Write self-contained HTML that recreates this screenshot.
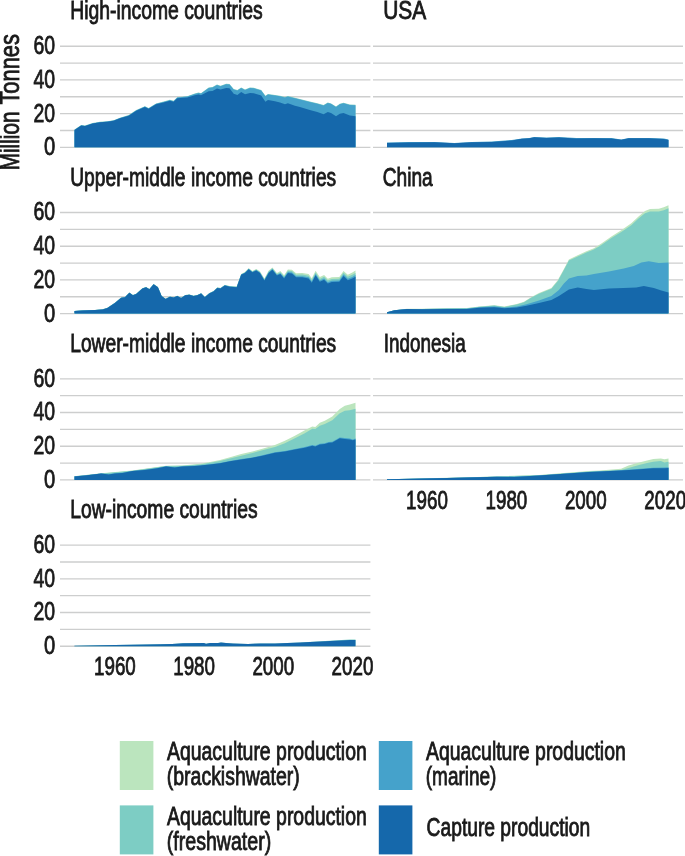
<!DOCTYPE html>
<html><head><meta charset="utf-8"><title>Production by income group</title>
<style>
html,body{margin:0;padding:0;background:#fff;}
body{width:685px;height:856px;overflow:hidden;}
svg{display:block;filter:blur(0.45px);font-family:"Liberation Sans",sans-serif;fill:#1a1a1a;}
text{stroke:#1a1a1a;stroke-width:0.85px;}
</style></head><body>
<svg width="685" height="856" viewBox="0 0 685 856">
<rect width="685" height="856" fill="#fff"/>
<line x1="60.0" x2="370.4" y1="147.30" y2="147.30" stroke="#cdcece" stroke-width="1.35"/>
<line x1="60.0" x2="370.4" y1="130.45" y2="130.45" stroke="#cdcece" stroke-width="1.35"/>
<line x1="60.0" x2="370.4" y1="113.60" y2="113.60" stroke="#cdcece" stroke-width="1.35"/>
<line x1="60.0" x2="370.4" y1="96.75" y2="96.75" stroke="#cdcece" stroke-width="1.35"/>
<line x1="60.0" x2="370.4" y1="79.90" y2="79.90" stroke="#cdcece" stroke-width="1.35"/>
<line x1="60.0" x2="370.4" y1="63.05" y2="63.05" stroke="#cdcece" stroke-width="1.35"/>
<line x1="60.0" x2="370.4" y1="46.20" y2="46.20" stroke="#cdcece" stroke-width="1.35"/>
<line x1="60.0" x2="370.4" y1="313.60" y2="313.60" stroke="#cdcece" stroke-width="1.35"/>
<line x1="60.0" x2="370.4" y1="296.75" y2="296.75" stroke="#cdcece" stroke-width="1.35"/>
<line x1="60.0" x2="370.4" y1="279.90" y2="279.90" stroke="#cdcece" stroke-width="1.35"/>
<line x1="60.0" x2="370.4" y1="263.05" y2="263.05" stroke="#cdcece" stroke-width="1.35"/>
<line x1="60.0" x2="370.4" y1="246.20" y2="246.20" stroke="#cdcece" stroke-width="1.35"/>
<line x1="60.0" x2="370.4" y1="229.35" y2="229.35" stroke="#cdcece" stroke-width="1.35"/>
<line x1="60.0" x2="370.4" y1="212.50" y2="212.50" stroke="#cdcece" stroke-width="1.35"/>
<line x1="60.0" x2="370.4" y1="479.90" y2="479.90" stroke="#cdcece" stroke-width="1.35"/>
<line x1="60.0" x2="370.4" y1="463.05" y2="463.05" stroke="#cdcece" stroke-width="1.35"/>
<line x1="60.0" x2="370.4" y1="446.20" y2="446.20" stroke="#cdcece" stroke-width="1.35"/>
<line x1="60.0" x2="370.4" y1="429.35" y2="429.35" stroke="#cdcece" stroke-width="1.35"/>
<line x1="60.0" x2="370.4" y1="412.50" y2="412.50" stroke="#cdcece" stroke-width="1.35"/>
<line x1="60.0" x2="370.4" y1="395.65" y2="395.65" stroke="#cdcece" stroke-width="1.35"/>
<line x1="60.0" x2="370.4" y1="378.80" y2="378.80" stroke="#cdcece" stroke-width="1.35"/>
<line x1="60.0" x2="370.4" y1="646.20" y2="646.20" stroke="#cdcece" stroke-width="1.35"/>
<line x1="60.0" x2="370.4" y1="629.35" y2="629.35" stroke="#cdcece" stroke-width="1.35"/>
<line x1="60.0" x2="370.4" y1="612.50" y2="612.50" stroke="#cdcece" stroke-width="1.35"/>
<line x1="60.0" x2="370.4" y1="595.65" y2="595.65" stroke="#cdcece" stroke-width="1.35"/>
<line x1="60.0" x2="370.4" y1="578.80" y2="578.80" stroke="#cdcece" stroke-width="1.35"/>
<line x1="60.0" x2="370.4" y1="561.95" y2="561.95" stroke="#cdcece" stroke-width="1.35"/>
<line x1="60.0" x2="370.4" y1="545.10" y2="545.10" stroke="#cdcece" stroke-width="1.35"/>
<line x1="373.0" x2="683.0" y1="147.30" y2="147.30" stroke="#cdcece" stroke-width="1.35"/>
<line x1="373.0" x2="683.0" y1="130.45" y2="130.45" stroke="#cdcece" stroke-width="1.35"/>
<line x1="373.0" x2="683.0" y1="113.60" y2="113.60" stroke="#cdcece" stroke-width="1.35"/>
<line x1="373.0" x2="683.0" y1="96.75" y2="96.75" stroke="#cdcece" stroke-width="1.35"/>
<line x1="373.0" x2="683.0" y1="79.90" y2="79.90" stroke="#cdcece" stroke-width="1.35"/>
<line x1="373.0" x2="683.0" y1="63.05" y2="63.05" stroke="#cdcece" stroke-width="1.35"/>
<line x1="373.0" x2="683.0" y1="46.20" y2="46.20" stroke="#cdcece" stroke-width="1.35"/>
<line x1="373.0" x2="683.0" y1="313.60" y2="313.60" stroke="#cdcece" stroke-width="1.35"/>
<line x1="373.0" x2="683.0" y1="296.75" y2="296.75" stroke="#cdcece" stroke-width="1.35"/>
<line x1="373.0" x2="683.0" y1="279.90" y2="279.90" stroke="#cdcece" stroke-width="1.35"/>
<line x1="373.0" x2="683.0" y1="263.05" y2="263.05" stroke="#cdcece" stroke-width="1.35"/>
<line x1="373.0" x2="683.0" y1="246.20" y2="246.20" stroke="#cdcece" stroke-width="1.35"/>
<line x1="373.0" x2="683.0" y1="229.35" y2="229.35" stroke="#cdcece" stroke-width="1.35"/>
<line x1="373.0" x2="683.0" y1="212.50" y2="212.50" stroke="#cdcece" stroke-width="1.35"/>
<line x1="373.0" x2="683.0" y1="479.90" y2="479.90" stroke="#cdcece" stroke-width="1.35"/>
<line x1="373.0" x2="683.0" y1="463.05" y2="463.05" stroke="#cdcece" stroke-width="1.35"/>
<line x1="373.0" x2="683.0" y1="446.20" y2="446.20" stroke="#cdcece" stroke-width="1.35"/>
<line x1="373.0" x2="683.0" y1="429.35" y2="429.35" stroke="#cdcece" stroke-width="1.35"/>
<line x1="373.0" x2="683.0" y1="412.50" y2="412.50" stroke="#cdcece" stroke-width="1.35"/>
<line x1="373.0" x2="683.0" y1="395.65" y2="395.65" stroke="#cdcece" stroke-width="1.35"/>
<line x1="373.0" x2="683.0" y1="378.80" y2="378.80" stroke="#cdcece" stroke-width="1.35"/>
<path d="M74.5,129.5 L81.2,125.0 L85.0,125.5 L92.5,123.0 L100.0,121.8 L107.4,121.2 L113.7,120.2 L120.0,117.7 L128.7,115.1 L136.2,110.1 L144.9,106.2 L148.6,108.0 L156.1,103.4 L163.6,101.6 L169.9,99.8 L173.6,100.8 L177.3,97.2 L187.3,96.2 L194.8,93.6 L198.6,92.6 L201.0,93.2 L208.7,87.6 L212.5,87.1 L217.0,84.6 L220.5,85.8 L226.2,83.8 L229.5,84.1 L233.7,89.1 L237.4,90.1 L241.2,87.6 L245.0,89.6 L250.0,87.6 L253.7,87.8 L261.2,90.1 L265.4,95.8 L268.0,94.1 L275.0,95.1 L280.0,95.8 L285.0,97.1 L287.9,96.1 L294.9,97.8 L299.9,99.1 L309.8,101.6 L317.3,103.3 L323.6,105.1 L327.8,102.6 L331.0,103.4 L336.0,106.6 L339.8,103.8 L343.5,102.8 L349.8,104.6 L355.5,104.8 L355.5,147.3 L74.5,147.3Z" fill="#7dcdc4"/>
<path d="M74.5,129.9 L81.2,125.4 L85.0,125.9 L92.5,123.4 L100.0,122.2 L107.4,121.6 L113.7,120.6 L120.0,118.1 L128.7,115.5 L136.2,110.5 L144.9,106.6 L148.6,108.4 L156.1,103.8 L163.6,102.0 L169.9,100.2 L173.6,101.2 L177.3,97.6 L187.3,96.6 L194.8,94.0 L198.6,93.0 L201.0,93.6 L208.7,88.0 L212.5,87.5 L217.0,85.0 L220.5,86.2 L226.2,84.2 L229.5,84.5 L233.7,89.5 L237.4,90.5 L241.2,88.0 L245.0,90.0 L250.0,88.0 L253.7,88.2 L261.2,90.5 L265.4,96.2 L268.0,94.5 L275.0,95.5 L280.0,96.2 L285.0,97.5 L287.9,96.5 L294.9,98.2 L299.9,99.5 L309.8,102.0 L317.3,103.7 L323.6,105.5 L327.8,103.0 L331.0,103.8 L336.0,107.0 L339.8,104.2 L343.5,103.2 L349.8,105.0 L355.5,105.2 L355.5,147.3 L74.5,147.3Z" fill="#45a2cb"/>
<path d="M74.5,129.9 L81.2,125.4 L85.0,125.9 L92.5,123.4 L100.0,122.2 L107.4,121.7 L113.7,120.7 L120.0,118.2 L128.7,115.7 L136.2,110.7 L144.9,106.9 L148.6,108.7 L156.1,104.2 L163.6,102.4 L169.9,100.7 L173.6,101.7 L177.3,98.2 L187.3,97.5 L194.8,95.2 L198.6,94.4 L201.0,95.3 L208.7,91.2 L212.5,91.0 L217.0,88.5 L220.5,89.5 L226.2,88.0 L229.5,88.2 L233.7,93.7 L237.4,95.0 L241.2,92.0 L245.0,94.2 L250.0,93.0 L253.7,93.2 L261.2,95.5 L265.4,101.7 L268.0,100.0 L275.0,101.2 L280.0,102.5 L285.0,104.2 L287.9,103.2 L294.9,105.7 L299.9,107.0 L309.8,110.0 L317.3,112.0 L323.6,114.2 L327.8,112.0 L331.0,113.0 L336.0,116.2 L339.8,113.7 L343.5,113.0 L349.8,115.5 L355.5,116.2 L355.5,147.3 L74.5,147.3Z" fill="#1568ab"/>
<path d="M74.5,311.0 L82.5,310.3 L95.0,310.0 L102.5,309.3 L107.4,307.8 L114.9,302.8 L121.2,297.6 L124.9,297.1 L129.4,292.6 L132.9,295.1 L136.2,293.8 L142.4,288.2 L146.1,287.0 L149.4,289.0 L153.6,284.0 L157.9,287.0 L161.6,295.7 L165.6,298.7 L169.9,296.5 L173.6,297.2 L177.3,295.7 L181.1,297.7 L185.3,295.0 L189.3,294.5 L193.6,295.7 L197.3,295.0 L201.1,293.2 L204.8,296.9 L209.3,293.1 L213.5,291.0 L217.3,287.5 L220.5,287.9 L224.8,284.9 L229.8,286.1 L236.7,286.5 L241.2,274.0 L244.9,272.1 L248.7,268.2 L252.4,271.0 L256.2,269.0 L259.9,271.3 L264.4,278.6 L268.6,270.8 L272.4,267.4 L276.9,272.9 L280.4,271.1 L284.1,275.3 L287.9,269.5 L291.9,269.7 L296.1,273.2 L302.3,273.0 L308.6,274.1 L311.8,278.3 L315.6,270.7 L319.8,277.1 L324.1,275.1 L327.8,278.8 L331.8,277.2 L339.3,277.0 L343.5,270.9 L347.8,274.7 L352.3,272.5 L355.5,270.5 L355.5,313.6 L74.5,313.6Z" fill="#bbe5be"/>
<path d="M74.5,311.0 L82.5,310.3 L95.0,310.0 L102.5,309.3 L107.4,307.8 L114.9,302.8 L121.2,297.6 L124.9,297.1 L129.4,292.6 L132.9,295.1 L136.2,293.8 L142.4,288.3 L146.1,287.1 L149.4,289.1 L153.6,284.1 L157.9,287.1 L161.6,295.8 L165.6,298.8 L169.9,296.6 L173.6,297.3 L177.3,295.8 L181.1,297.8 L185.3,295.1 L189.3,294.6 L193.6,295.8 L197.3,295.1 L201.1,293.3 L204.8,297.0 L209.3,293.2 L213.5,291.2 L217.3,287.6 L220.5,288.1 L224.8,285.1 L229.8,286.3 L236.7,286.8 L241.2,274.2 L244.9,272.4 L248.7,268.6 L252.4,271.5 L256.2,269.5 L259.9,271.9 L264.4,279.3 L268.6,271.6 L272.4,268.3 L276.9,273.9 L280.4,272.2 L284.1,276.5 L287.9,270.8 L291.9,271.1 L296.1,274.7 L302.3,274.6 L308.6,275.7 L311.8,280.0 L315.6,272.4 L319.8,278.9 L324.1,276.8 L327.8,280.5 L331.8,279.0 L339.3,278.8 L343.5,272.8 L347.8,276.8 L352.3,274.7 L355.5,272.9 L355.5,313.6 L74.5,313.6Z" fill="#7dcdc4"/>
<path d="M74.5,311.1 L82.5,310.4 L95.0,310.1 L102.5,309.4 L107.4,307.9 L114.9,302.9 L121.2,297.7 L124.9,297.2 L129.4,292.7 L132.9,295.2 L136.2,293.9 L142.4,288.4 L146.1,287.2 L149.4,289.2 L153.6,284.2 L157.9,287.2 L161.6,295.9 L165.6,298.9 L169.9,296.7 L173.6,297.4 L177.3,295.9 L181.1,297.9 L185.3,295.2 L189.3,294.7 L193.6,295.9 L197.3,295.2 L201.1,293.3 L204.8,297.1 L209.3,293.3 L213.5,291.3 L217.3,287.8 L220.5,288.3 L224.8,285.3 L229.8,286.6 L236.7,287.0 L241.2,274.5 L244.9,272.7 L248.7,269.0 L252.4,271.9 L256.2,270.1 L259.9,272.5 L264.4,279.9 L268.6,272.4 L272.4,269.1 L276.9,274.8 L280.4,273.2 L284.1,277.6 L287.9,272.1 L291.9,272.5 L296.1,276.2 L302.3,276.2 L308.6,277.3 L311.8,281.6 L315.6,274.1 L319.8,280.6 L324.1,278.5 L327.8,282.2 L331.8,280.7 L339.3,280.5 L343.5,274.6 L347.8,278.8 L352.3,276.9 L355.5,275.1 L355.5,313.6 L74.5,313.6Z" fill="#45a2cb"/>
<path d="M74.5,311.1 L82.5,310.4 L95.0,310.1 L102.5,309.4 L107.4,307.9 L114.9,302.9 L121.2,297.7 L124.9,297.2 L129.4,292.7 L132.9,295.2 L136.2,293.9 L142.4,288.4 L146.1,287.2 L149.4,289.2 L153.6,284.2 L157.9,287.2 L161.6,295.9 L165.6,298.9 L169.9,296.7 L173.6,297.4 L177.3,295.9 L181.1,297.9 L185.3,295.2 L189.3,294.7 L193.6,295.9 L197.3,295.2 L201.1,293.4 L204.8,297.2 L209.3,293.4 L213.5,291.4 L217.3,287.9 L220.5,288.4 L224.8,285.4 L229.8,286.7 L236.7,287.2 L241.2,274.7 L244.9,272.9 L248.7,269.2 L252.4,272.2 L256.2,270.4 L259.9,272.9 L264.4,280.4 L268.6,272.9 L272.4,269.7 L276.9,275.4 L280.4,273.9 L284.1,278.4 L287.9,272.9 L291.9,273.4 L296.1,277.2 L302.3,277.2 L308.6,278.4 L311.8,282.7 L315.6,275.2 L319.8,281.7 L324.1,279.7 L327.8,283.4 L331.8,281.9 L339.3,281.7 L343.5,275.9 L347.8,280.2 L352.3,278.4 L355.5,276.7 L355.5,313.6 L74.5,313.6Z" fill="#1568ab"/>
<path d="M74.5,476.3 L101.2,473.3 L132.4,470.6 L166.1,465.7 L182.3,465.4 L200.0,463.7 L210.0,461.9 L220.0,459.9 L230.0,457.2 L241.2,453.9 L252.4,451.4 L262.4,448.7 L274.9,444.9 L284.9,440.7 L294.9,435.7 L304.8,430.2 L312.3,426.5 L315.3,427.0 L319.8,422.7 L324.8,420.7 L332.3,416.5 L339.8,409.0 L344.8,405.7 L349.8,404.5 L355.5,402.7 L355.5,479.9 L74.5,479.9Z" fill="#bbe5be"/>
<path d="M74.5,476.3 L101.2,473.4 L132.4,470.8 L166.1,466.0 L182.3,465.8 L200.0,464.4 L210.0,462.8 L220.0,460.9 L230.0,458.5 L241.2,455.7 L252.4,453.0 L262.4,450.2 L274.9,446.9 L284.9,443.2 L294.9,438.2 L304.8,433.2 L312.3,428.7 L315.3,429.0 L319.8,425.7 L324.8,424.0 L332.3,420.2 L339.8,413.2 L344.8,410.7 L349.8,410.2 L355.5,408.7 L355.5,479.9 L74.5,479.9Z" fill="#7dcdc4"/>
<path d="M74.5,476.3 L85.0,475.5 L101.2,473.5 L108.7,474.3 L114.9,473.3 L122.4,472.8 L132.4,471.0 L144.9,469.8 L157.4,468.1 L166.1,466.3 L174.8,467.3 L182.3,466.3 L194.8,465.8 L200.0,465.4 L210.0,464.3 L220.0,463.0 L230.0,461.0 L241.2,459.1 L252.4,457.4 L262.4,455.3 L274.9,452.3 L284.9,450.9 L294.9,448.9 L304.8,447.1 L312.3,445.1 L315.3,445.8 L319.8,443.8 L324.8,443.2 L328.6,442.0 L332.3,441.7 L339.8,437.5 L344.8,438.1 L349.8,438.6 L352.8,439.4 L355.5,438.6 L355.5,479.9 L74.5,479.9Z" fill="#45a2cb"/>
<path d="M74.5,476.4 L85.0,475.6 L101.2,473.6 L108.7,474.4 L114.9,473.4 L122.4,472.9 L132.4,471.1 L144.9,469.9 L157.4,468.2 L166.1,466.4 L174.8,467.4 L182.3,466.4 L194.8,465.9 L200.0,465.5 L210.0,464.4 L220.0,463.2 L230.0,461.2 L241.2,459.4 L252.4,457.7 L262.4,455.7 L274.9,452.7 L284.9,451.4 L294.9,449.4 L304.8,447.7 L312.3,445.7 L315.3,446.4 L319.8,444.4 L324.8,443.9 L328.6,442.7 L332.3,442.4 L339.8,438.2 L344.8,438.9 L349.8,439.4 L352.8,440.2 L355.5,439.4 L355.5,479.9 L74.5,479.9Z" fill="#1568ab"/>
<path d="M74.4,645.7 L100.0,645.2 L129.9,644.7 L160.0,644.2 L172.0,643.9 L183.0,643.2 L204.0,643.1 L206.0,643.8 L210.0,643.1 L218.0,642.9 L221.0,642.5 L226.0,642.9 L233.0,643.5 L248.0,643.9 L260.0,643.5 L275.0,643.6 L300.0,642.4 L325.0,641.0 L350.0,639.5 L355.5,639.5 L355.5,646.2 L74.4,646.2Z" fill="#7dcdc4"/>
<path d="M74.4,645.7 L100.0,645.2 L129.9,644.7 L160.0,644.2 L172.0,643.9 L183.0,643.2 L204.0,643.1 L206.0,643.8 L210.0,643.1 L218.0,642.9 L221.0,642.5 L226.0,642.9 L233.0,643.5 L248.0,643.9 L260.0,643.5 L275.0,643.6 L300.0,642.4 L325.0,641.2 L350.0,639.9 L355.5,639.9 L355.5,646.2 L74.4,646.2Z" fill="#1568ab"/>
<path d="M387.0,142.6 L409.4,142.1 L434.4,141.9 L454.4,142.9 L471.8,141.9 L491.8,141.6 L511.8,140.1 L521.8,138.4 L529.3,137.9 L534.3,137.0 L546.5,137.6 L558.9,137.1 L576.4,138.1 L593.9,137.9 L611.4,138.1 L621.3,139.4 L628.8,137.9 L648.8,137.9 L663.8,138.6 L668.5,139.6 L668.5,147.3 L387.0,147.3Z" fill="#45a2cb"/>
<path d="M387.0,142.9 L409.4,142.4 L434.4,142.2 L454.4,143.2 L471.8,142.2 L491.8,141.9 L511.8,140.4 L521.8,138.7 L529.3,138.2 L534.3,137.3 L546.5,137.9 L558.9,137.4 L576.4,138.4 L593.9,138.2 L611.4,138.4 L621.3,139.7 L628.8,138.2 L648.8,138.2 L663.8,138.9 L668.5,139.9 L668.5,147.3 L387.0,147.3Z" fill="#1568ab"/>
<path d="M387.0,312.2 L394.5,310.2 L406.9,308.8 L421.9,308.8 L446.9,308.2 L466.9,308.0 L479.3,306.5 L494.3,305.3 L504.3,306.6 L516.8,304.1 L524.0,301.8 L531.5,297.0 L539.0,293.1 L551.4,287.9 L557.7,280.3 L563.9,269.1 L568.9,259.5 L577.7,255.2 L586.4,251.3 L593.9,248.2 L601.4,243.6 L611.4,236.5 L621.3,230.3 L631.3,223.3 L638.8,216.2 L645.0,210.9 L650.0,208.9 L658.8,208.7 L663.8,207.3 L668.5,205.2 L668.5,313.6 L387.0,313.6Z" fill="#bbe5be"/>
<path d="M387.0,312.3 L394.5,310.3 L406.9,308.9 L421.9,308.9 L446.9,308.4 L466.9,308.2 L479.3,306.7 L494.3,305.5 L504.3,306.9 L516.8,304.5 L524.0,302.3 L531.5,297.6 L539.0,293.8 L551.4,288.8 L557.7,281.3 L563.9,270.1 L568.9,260.6 L577.7,256.4 L586.4,252.6 L593.9,249.6 L601.4,245.1 L611.4,238.1 L621.3,232.1 L631.3,225.2 L638.8,218.2 L645.0,213.2 L650.0,211.4 L658.8,211.4 L663.8,210.2 L668.5,208.2 L668.5,313.6 L387.0,313.6Z" fill="#7dcdc4"/>
<path d="M387.0,312.3 L394.5,310.3 L406.9,309.0 L421.9,309.1 L446.9,308.8 L466.9,308.7 L479.3,307.3 L494.3,306.6 L504.3,307.6 L516.8,306.6 L526.5,304.3 L539.0,300.6 L551.4,296.1 L558.9,289.9 L563.9,283.6 L568.9,278.6 L577.7,276.1 L586.4,275.4 L593.9,274.1 L608.9,271.6 L623.8,268.6 L633.8,266.1 L641.3,262.4 L648.8,261.2 L658.8,262.9 L668.5,262.4 L668.5,313.6 L387.0,313.6Z" fill="#45a2cb"/>
<path d="M387.0,312.3 L394.5,310.3 L406.9,309.1 L421.9,309.3 L446.9,309.1 L466.9,309.1 L479.3,307.8 L494.3,307.3 L504.3,308.3 L516.8,307.5 L526.5,305.8 L539.0,303.1 L551.4,299.9 L558.9,296.1 L568.9,289.4 L577.7,287.4 L586.4,288.9 L593.9,289.9 L608.9,288.6 L623.8,288.1 L636.3,287.4 L643.8,285.9 L653.8,287.9 L661.3,290.4 L668.5,292.4 L668.5,313.6 L387.0,313.6Z" fill="#1568ab"/>
<path d="M387.0,479.3 L446.9,477.8 L496.8,476.4 L539.0,475.0 L563.9,473.0 L588.9,471.0 L600.0,470.4 L621.1,468.8 L628.5,465.4 L637.2,463.0 L647.1,460.5 L653.3,459.0 L660.8,458.4 L664.5,459.2 L668.5,458.6 L668.5,479.9 L387.0,479.9Z" fill="#bbe5be"/>
<path d="M387.0,479.3 L446.9,477.9 L496.8,476.6 L539.0,475.3 L563.9,473.4 L588.9,471.6 L600.0,471.0 L621.1,470.0 L628.5,467.9 L637.2,465.4 L647.1,463.0 L653.3,461.7 L660.8,461.1 L664.5,462.6 L668.5,461.7 L668.5,479.9 L387.0,479.9Z" fill="#7dcdc4"/>
<path d="M387.0,479.2 L446.9,477.9 L496.8,476.7 L514.0,476.8 L539.0,475.5 L563.9,473.7 L588.9,472.0 L600.0,471.5 L621.1,470.3 L637.2,469.0 L653.3,467.7 L664.5,467.6 L668.5,467.3 L668.5,479.9 L387.0,479.9Z" fill="#45a2cb"/>
<path d="M387.0,479.3 L446.9,478.0 L496.8,476.8 L514.0,476.9 L539.0,475.6 L563.9,473.8 L588.9,472.1 L600.0,471.6 L621.1,470.6 L637.2,469.4 L653.3,468.2 L664.5,468.2 L668.5,467.9 L668.5,479.9 L387.0,479.9Z" fill="#1568ab"/>
<text x="70.2" y="19.3" font-size="25" text-anchor="start" textLength="192.5" lengthAdjust="spacingAndGlyphs">High-income countries</text>
<text x="70.2" y="185.6" font-size="25" text-anchor="start" textLength="266" lengthAdjust="spacingAndGlyphs">Upper-middle income countries</text>
<text x="70.2" y="351.9" font-size="25" text-anchor="start" textLength="266" lengthAdjust="spacingAndGlyphs">Lower-middle income countries</text>
<text x="70.2" y="518.2" font-size="25" text-anchor="start" textLength="187.5" lengthAdjust="spacingAndGlyphs">Low-income countries</text>
<text x="383.2" y="19.3" font-size="25" text-anchor="start" textLength="43" lengthAdjust="spacingAndGlyphs">USA</text>
<text x="382.7" y="185.6" font-size="25" text-anchor="start" textLength="50" lengthAdjust="spacingAndGlyphs">China</text>
<text x="383.7" y="351.9" font-size="25" text-anchor="start" textLength="82" lengthAdjust="spacingAndGlyphs">Indonesia</text>
<text x="55.1" y="155.2" font-size="26" text-anchor="end" textLength="11.2" lengthAdjust="spacingAndGlyphs">0</text>
<text x="55.1" y="121.5" font-size="26" text-anchor="end" textLength="21.6" lengthAdjust="spacingAndGlyphs">20</text>
<text x="55.1" y="87.8" font-size="26" text-anchor="end" textLength="21.6" lengthAdjust="spacingAndGlyphs">40</text>
<text x="55.1" y="54.1" font-size="26" text-anchor="end" textLength="21.6" lengthAdjust="spacingAndGlyphs">60</text>
<text x="55.1" y="321.5" font-size="26" text-anchor="end" textLength="11.2" lengthAdjust="spacingAndGlyphs">0</text>
<text x="55.1" y="287.8" font-size="26" text-anchor="end" textLength="21.6" lengthAdjust="spacingAndGlyphs">20</text>
<text x="55.1" y="254.1" font-size="26" text-anchor="end" textLength="21.6" lengthAdjust="spacingAndGlyphs">40</text>
<text x="55.1" y="220.4" font-size="26" text-anchor="end" textLength="21.6" lengthAdjust="spacingAndGlyphs">60</text>
<text x="55.1" y="487.8" font-size="26" text-anchor="end" textLength="11.2" lengthAdjust="spacingAndGlyphs">0</text>
<text x="55.1" y="454.1" font-size="26" text-anchor="end" textLength="21.6" lengthAdjust="spacingAndGlyphs">20</text>
<text x="55.1" y="420.4" font-size="26" text-anchor="end" textLength="21.6" lengthAdjust="spacingAndGlyphs">40</text>
<text x="55.1" y="386.7" font-size="26" text-anchor="end" textLength="21.6" lengthAdjust="spacingAndGlyphs">60</text>
<text x="55.1" y="654.1" font-size="26" text-anchor="end" textLength="11.2" lengthAdjust="spacingAndGlyphs">0</text>
<text x="55.1" y="620.4" font-size="26" text-anchor="end" textLength="21.6" lengthAdjust="spacingAndGlyphs">20</text>
<text x="55.1" y="586.7" font-size="26" text-anchor="end" textLength="21.6" lengthAdjust="spacingAndGlyphs">40</text>
<text x="55.1" y="553.0" font-size="26" text-anchor="end" textLength="21.6" lengthAdjust="spacingAndGlyphs">60</text>
<text x="94.0" y="674.9" font-size="26" text-anchor="start" textLength="41.8" lengthAdjust="spacingAndGlyphs">1960</text>
<text x="406.1" y="508.5" font-size="26" text-anchor="start" textLength="41.8" lengthAdjust="spacingAndGlyphs">1960</text>
<text x="173.2" y="674.9" font-size="26" text-anchor="start" textLength="41.8" lengthAdjust="spacingAndGlyphs">1980</text>
<text x="485.5" y="508.5" font-size="26" text-anchor="start" textLength="41.8" lengthAdjust="spacingAndGlyphs">1980</text>
<text x="252.4" y="674.9" font-size="26" text-anchor="start" textLength="41.8" lengthAdjust="spacingAndGlyphs">2000</text>
<text x="564.9" y="508.5" font-size="26" text-anchor="start" textLength="41.8" lengthAdjust="spacingAndGlyphs">2000</text>
<text x="331.6" y="674.9" font-size="26" text-anchor="start" textLength="41.8" lengthAdjust="spacingAndGlyphs">2020</text>
<text x="644.3" y="508.5" font-size="26" text-anchor="start" textLength="41.8" lengthAdjust="spacingAndGlyphs">2020</text>
<text transform="translate(18.9,170.2) rotate(-90)" font-size="27" textLength="58.6" lengthAdjust="spacingAndGlyphs">Million</text>
<text transform="translate(18.9,104.6) rotate(-90)" font-size="27" textLength="70.6" lengthAdjust="spacingAndGlyphs">Tonnes</text>
<rect x="119.8" y="741" width="33.6" height="49" fill="#bbe5be"/>
<rect x="119.8" y="805.4" width="33.6" height="49" fill="#7dcdc4"/>
<rect x="378.8" y="741" width="33.6" height="49" fill="#45a2cb"/>
<rect x="378.8" y="805.4" width="33.6" height="49" fill="#1568ab"/>
<text x="167.0" y="760.2" font-size="25" text-anchor="start" textLength="199.8" lengthAdjust="spacingAndGlyphs">Aquaculture production</text>
<text x="166.8" y="785.2" font-size="25" text-anchor="start" textLength="133" lengthAdjust="spacingAndGlyphs">(brackishwater)</text>
<text x="167.0" y="824.6" font-size="25" text-anchor="start" textLength="199.8" lengthAdjust="spacingAndGlyphs">Aquaculture production</text>
<text x="166.8" y="849.6" font-size="25" text-anchor="start" textLength="104.4" lengthAdjust="spacingAndGlyphs">(freshwater)</text>
<text x="426.0" y="760.2" font-size="25" text-anchor="start" textLength="199.8" lengthAdjust="spacingAndGlyphs">Aquaculture production</text>
<text x="425.8" y="785.2" font-size="25" text-anchor="start" textLength="70.6" lengthAdjust="spacingAndGlyphs">(marine)</text>
<text x="426.6" y="836.2" font-size="25" text-anchor="start" textLength="163.6" lengthAdjust="spacingAndGlyphs">Capture production</text>
</svg>
</body></html>
